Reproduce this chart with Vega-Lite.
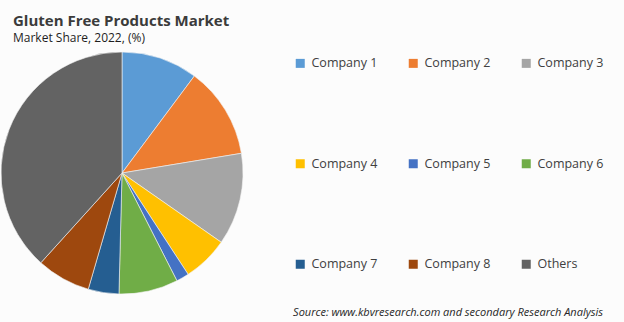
{
  "$schema": "https://vega.github.io/schema/vega-lite/v6.json",
  "width": 244,
  "height": 244,
  "autosize": "none",
  "padding": {"left": 0, "top": 51, "right": 380, "bottom": 27},
  "background": "#fcfcfc",
  "title": {
    "text": "Gluten Free Products Market",
    "subtitle": "Market Share, 2022, (%)",
    "anchor": "start",
    "frame": "group",
    "dx": 13,
    "offset": 7,
    "font": "Open Sans",
    "fontSize": 15,
    "fontWeight": "bold",
    "color": "#3b3b3b",
    "subtitleFont": "Open Sans",
    "subtitleFontSize": 12,
    "subtitleColor": "#1e1e1e",
    "subtitlePadding": 4
  },
  "data": {
    "values": [
      {"company": "Company 1", "share": 10.2},
      {"company": "Company 2", "share": 12.2},
      {"company": "Company 3", "share": 12.3},
      {"company": "Company 4", "share": 6.1},
      {"company": "Company 5", "share": 1.7},
      {"company": "Company 6", "share": 7.9},
      {"company": "Company 7", "share": 4.1},
      {"company": "Company 8", "share": 7.2},
      {"company": "Others", "share": 38.3}
    ]
  },
  "mark": {"type": "arc", "outerRadius": 121, "stroke": "#f4f4f4", "strokeWidth": 0.6},
  "encoding": {
    "theta": {"field": "share", "type": "quantitative", "stack": true},
    "order": {"field": "company", "type": "ordinal"},
    "color": {
      "field": "company",
      "type": "nominal",
      "scale": {
        "domain": ["Company 1", "Company 2", "Company 3", "Company 4", "Company 5", "Company 6", "Company 7", "Company 8", "Others"],
        "range": ["#5b9bd5", "#ed7d31", "#a5a5a5", "#ffc000", "#4472c4", "#70ad47", "#255e91", "#9e480e", "#636363"]
      },
      "legend": {
        "title": "Source: www.kbvresearch.com and secondary Research Analysis",
        "titleOrient": "bottom",
        "titleAnchor": "end",
        "titleFont": "Open Sans",
        "titleFontSize": 11,
        "titleFontStyle": "italic",
        "titleFontWeight": "normal",
        "titleColor": "#262626",
        "titleLimit": 1000,
        "titlePadding": 36,
        "orient": "none",
        "legendX": 293,
        "legendY": 6,
        "direction": "horizontal",
        "columns": 3,
        "columnPadding": 29,
        "rowPadding": 87.5,
        "padding": 0,
        "symbolType": "square",
        "symbolSize": 81,
        "symbolStrokeWidth": 0,
        "labelFont": "Open Sans",
        "labelFontSize": 12.5,
        "labelColor": "#404040",
        "labelOffset": 5,
        "labelLimit": 200
      }
    }
  },
  "config": {"view": {"stroke": null}}
}
